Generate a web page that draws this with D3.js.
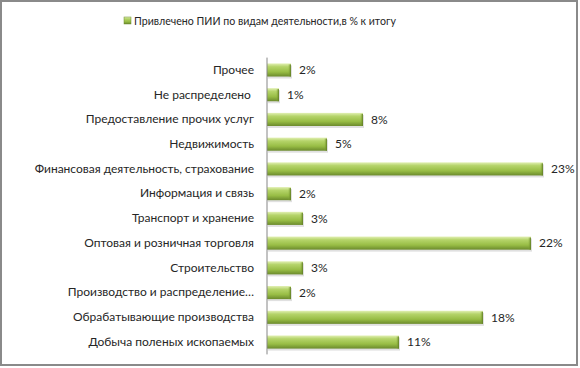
<!DOCTYPE html>
<html>
<head>
<meta charset="utf-8">
<script src="https://cdn.jsdelivr.net/npm/d3@7"></script>
<style>
  body { margin: 0; background: #fff; }
  svg text { font-family: Lato, "Noto Sans", sans-serif; fill: #262626; }
</style>
</head>
<body>
<svg id="chart" width="580" height="368"></svg>
<script>
const categories = [
  "Прочее",
  "Не распределено ",
  "Предоставление прочих услуг",
  "Недвижимость",
  "Финансовая деятельность, страхование",
  "Информация и связь",
  "Транспорт и хранение",
  "Оптовая и розничная торговля",
  "Строительство",
  "Производство и распределение…",
  "Обрабатывающие производства",
  "Добыча поленых ископаемых"
];
const values = [2, 1, 8, 5, 23, 2, 3, 22, 3, 2, 18, 11];
const legendLabel = "Привлечено ПИИ по видам деятельности,в % к итогу";

const svg = d3.select("#chart");

// chart frame
svg.append("rect")
  .attr("x", 1).attr("y", 1)
  .attr("width", 576).attr("height", 364)
  .attr("fill", "#fff")
  .attr("stroke", "#8a8a8a")
  .attr("stroke-width", 2);

const defs = svg.append("defs");
const grad = defs.append("linearGradient")
  .attr("id", "barFill")
  .attr("x1", 0).attr("y1", 0).attr("x2", 0).attr("y2", 1);
grad.append("stop").attr("offset", "0%").attr("stop-color", "#e2f0b4");
grad.append("stop").attr("offset", "25%").attr("stop-color", "#b5d46a");
grad.append("stop").attr("offset", "65%").attr("stop-color", "#98bd45");
grad.append("stop").attr("offset", "100%").attr("stop-color", "#6b8a2c");

const endGrad = defs.append("linearGradient")
  .attr("id", "barEnd")
  .attr("x1", 0).attr("y1", 0).attr("x2", 1).attr("y2", 0);
endGrad.append("stop").attr("offset", "0%").attr("stop-color", "#8eb23c").attr("stop-opacity", 0);
endGrad.append("stop").attr("offset", "100%").attr("stop-color", "#5d7a22");

const x = d3.scaleLinear()
  .domain([0, 25])
  .range([267, 567]);

const y = d3.scaleBand()
  .domain(categories)
  .range([57.6, 354.4])
  .paddingInner(0.47)
  .paddingOuter(0.235);

const rows = svg.append("g")
  .selectAll("g")
  .data(categories.map((c, i) => ({name: c, value: values[i]})))
  .join("g");

// soft shadow
rows.append("rect")
  .attr("x", x(0) + 1)
  .attr("y", d => y(d.name) + 2)
  .attr("width", d => x(d.value) - x(0))
  .attr("height", y.bandwidth())
  .attr("fill", "#000")
  .attr("opacity", 0.12);

rows.append("rect")
  .attr("x", x(0))
  .attr("y", d => y(d.name))
  .attr("width", d => x(d.value) - x(0))
  .attr("height", y.bandwidth())
  .attr("fill", "url(#barFill)");

rows.append("rect")
  .attr("x", d => x(d.value) - 3)
  .attr("y", d => y(d.name) + 1)
  .attr("width", 3)
  .attr("height", y.bandwidth() - 1)
  .attr("fill", "url(#barEnd)");

rows.append("text")
  .attr("x", d => x(d.value) + 8)
  .attr("y", d => y(d.name) + y.bandwidth() / 2)
  .attr("dy", "0.35em")
  .attr("font-size", 12)
  .text(d => d.value + "%");

// category axis
const axis = svg.append("g")
  .attr("transform", `translate(${x(0)},0)`)
  .call(d3.axisLeft(y).tickSize(0).tickPadding(13));
axis.select(".domain")
  .attr("stroke", "#868686")
  .attr("d", `M0,${y.range()[0]}V${y.range()[1]}`);
axis.selectAll("text")
  .attr("font-size", 12)
  .style("white-space", "pre")
  .attr("font-family", null);

// legend
const legend = svg.append("g").attr("transform", "translate(124,17)");
legend.append("rect")
  .attr("width", 7).attr("height", 7)
  .attr("fill", "url(#barFill)")
  .attr("stroke", "#6b8a2c")
  .attr("stroke-width", 0.5);
legend.append("text")
  .attr("x", 10)
  .attr("y", 4)
  .attr("dy", "0.35em")
  .attr("font-size", 10.6)
  .text(legendLabel);
</script>
</body>
</html>
